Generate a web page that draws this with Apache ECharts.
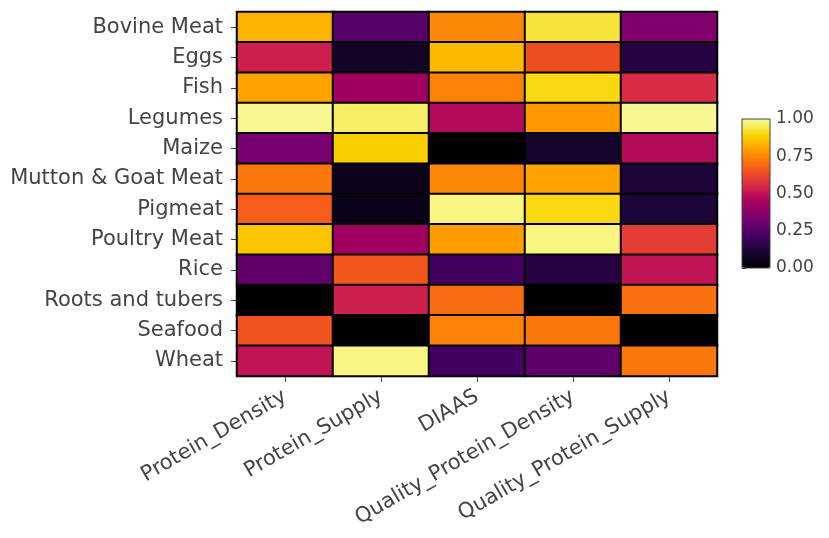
<!DOCTYPE html>
<html>
<head>
<meta charset="utf-8">
<script src="https://cdn.jsdelivr.net/npm/echarts@6/dist/echarts.min.js"></script>
<style>
  html, body { margin: 0; padding: 0; background: #fff; }
  #chart { width: 829px; height: 538px; }
</style>
</head>
<body>
<div id="chart"></div>
<script>
// Food groups (rows, top to bottom) and protein metrics (columns)
const foods = ["Bovine Meat", "Eggs", "Fish", "Legumes", "Maize", "Mutton & Goat Meat",
  "Pigmeat", "Poultry Meat", "Rice", "Roots and tubers", "Seafood", "Wheat"];
const metrics = ["Protein_Density", "Protein_Supply", "DIAAS", "Quality_Protein_Density", "Quality_Protein_Supply"];

// Normalised scores (0-1), one array per metric, in food order
const proteinDensity        = [0.83, 0.53, 0.80, 0.99, 0.33, 0.72, 0.67, 0.86, 0.28, 0.00, 0.65, 0.50];
const proteinSupply         = [0.26, 0.08, 0.43, 0.96, 0.88, 0.06, 0.05, 0.43, 0.66, 0.53, 0.00, 0.98];
const diaas                 = [0.75, 0.84, 0.74, 0.47, 0.00, 0.75, 0.98, 0.79, 0.21, 0.70, 0.74, 0.21];
const qualityProteinDensity = [0.93, 0.64, 0.90, 0.78, 0.09, 0.80, 0.90, 0.98, 0.14, 0.00, 0.72, 0.27];
const qualityProteinSupply  = [0.35, 0.14, 0.56, 0.99, 0.47, 0.12, 0.12, 0.60, 0.50, 0.71, 0.00, 0.72];

// Colour bar tick labels
const colorbarTicks = [0, 0.25, 0.5, 0.75, 1];

const columns = [proteinDensity, proteinSupply, diaas, qualityProteinDensity, qualityProteinSupply];
const cells = [];
columns.forEach((col, ci) => col.forEach((v, ri) => cells.push([ci, ri, v])));

// Inferno-style ramp, dark to light
const inferno = ['#000000', '#1a0535', '#470065', '#7a0070', '#a8005f',
  '#d82a48', '#f55a18', '#ff9600', '#f8d400', '#f8fca0'];

const font = 'DejaVu Sans, Verdana, sans-serif';
const textColor = '#444';

const chart = echarts.init(document.getElementById('chart'), null, { renderer: 'canvas' });
chart.setOption({
  backgroundColor: '#fff',
  animation: false,
  grid: [
    { left: 237, top: 12, width: 480, height: 364 },
    { left: 742, top: 119, width: 28, height: 149, show: true, borderColor: '#444', borderWidth: 1, z: 10 }
  ],
  xAxis: [
    {
      type: 'category', data: metrics, gridIndex: 0,
      axisLine: { show: false },
      axisTick: { show: true, alignWithLabel: true, length: 6, lineStyle: { color: textColor } },
      axisLabel: { rotate: 30, margin: 19, fontSize: 21, fontFamily: font, color: textColor },
      splitLine: { show: false }
    },
    { type: 'value', gridIndex: 1, show: false, min: 0, max: 1 }
  ],
  yAxis: [
    {
      type: 'category', data: foods, gridIndex: 0, inverse: true,
      axisLine: { show: false },
      axisTick: { show: true, alignWithLabel: true, length: 6, lineStyle: { color: textColor } },
      axisLabel: { margin: 14, fontSize: 21, fontFamily: font, color: textColor },
      splitLine: { show: false }
    },
    {
      type: 'value', gridIndex: 1, position: 'right', min: 0, max: 1, interval: 0.25,
      axisLine: { show: false },
      axisTick: { show: true, inside: false, length: 4, lineStyle: { color: textColor } },
      axisLabel: {
        margin: 6, fontSize: 17, fontFamily: font, color: textColor,
        formatter: v => colorbarTicks.includes(v) ? v.toFixed(2) : ''
      },
      splitLine: { show: false }
    }
  ],
  visualMap: {
    type: 'continuous', seriesIndex: 0, min: 0, max: 1,
    left: 742, top: 119, itemWidth: 28, itemHeight: 149, padding: 0,
    text: null, calculable: false, showLabel: false,
    inRange: { color: inferno }
  },
  series: [{
    type: 'heatmap',
    xAxisIndex: 0, yAxisIndex: 0,
    data: cells,
    itemStyle: { borderColor: '#000', borderWidth: 2 },
    emphasis: { disabled: true }
  }]
});
</script>
</body>
</html>
